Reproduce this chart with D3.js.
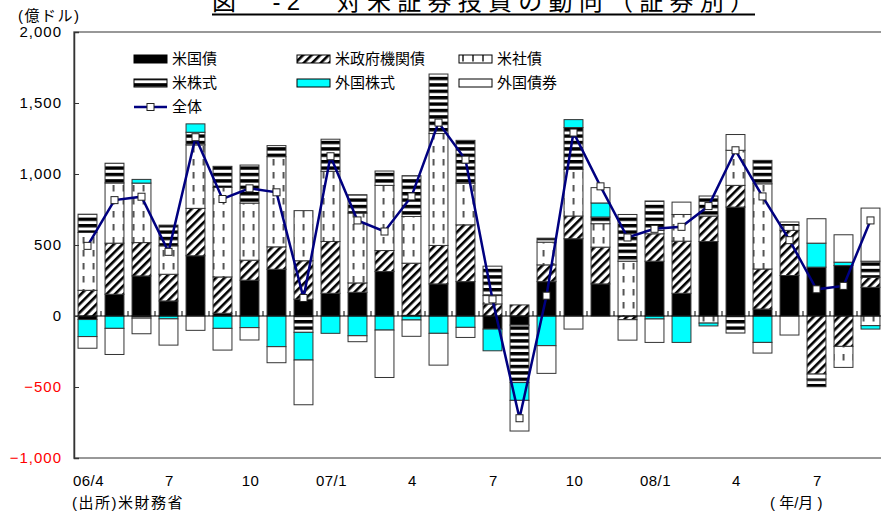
<!DOCTYPE html>
<html><head><meta charset="utf-8">
<script src="https://cdn.jsdelivr.net/npm/d3@7"></script>
<style>
body{margin:0;background:#fff}
svg{display:block}
text{font-family:"Liberation Sans","Noto Sans CJK JP",sans-serif;fill:#000}
</style>
</head><body>
<svg id="c" width="881" height="513"></svg>
<script>
// ---- data (億ドル) ----
const months = ["06/4","06/5","06/6","06/7","06/8","06/9","06/10","06/11","06/12",
  "07/1","07/2","07/3","07/4","07/5","07/6","07/7","07/8","07/9","07/10","07/11","07/12",
  "08/1","08/2","08/3","08/4","08/5","08/6","08/7","08/8","08/9"];
const tickLabels = ["06/4","7","10","07/1","4","7","10","08/1","4","7"];
const tickMonths = ["06/4","06/7","06/10","07/1","07/4","07/7","07/10","08/1","08/4","08/7"];
const seriesNames = ["米国債","米政府機関債","米社債","米株式","外国株式","外国債券"];
const usTreasury = [-25,153,282,106,424,19,252,329,118,160,167,313,5,226,242,-92,-64,242,544,226,0,386,160,525,767,49,285,344,355,202];
const usAgency   = [181,360,235,188,334,256,141,158,271,365,66,148,367,271,400,85,78,118,160,259,-26,193,367,179,153,282,318,-409,-214,71];
const usCorp     = [407,424,419,200,447,631,402,635,353,494,492,459,329,788,294,59,0,160,329,165,386,24,188,-50,247,600,35,-35,-148,-68];
const usEquity   = [129,139,-15,146,89,148,268,78,-115,226,129,101,287,419,301,207,-405,28,294,47,329,207,0,141,-120,165,24,-54,0,113];
const forEquity  = [-120,-87,26,-20,59,-87,-82,-216,-195,-122,-139,-99,-28,-122,-80,-153,-125,-209,56,99,0,-21,-186,-20,0,-186,0,169,24,-24];
const forBond    = [-82,-184,-110,-185,-101,-153,-87,-113,-315,0,-42,-334,-115,-224,-71,0,-216,-195,-92,108,-144,-165,87,0,111,-75,-134,172,193,374];
const total      = [494,816,840,452,1259,824,899,871,127,1125,673,595,842,1362,1101,117,-720,143,1292,913,553,614,628,774,1167,842,534,188,212,673];
const yTicks = [-1000,-500,0,500,1000,1500,2000];

const seriesArrays = [usTreasury,usAgency,usCorp,usEquity,forEquity,forBond];
const table = months.map((m,i)=>{
  const o={month:m};
  seriesNames.forEach((k,j)=>o[k]=seriesArrays[j][i]);
  o.total = total[i];
  return o;
});

const svg = d3.select("#c");
const X0 = 74, Y0 = 32, Y1 = 458;
const x = d3.scaleBand().domain(months).range([X0, X0 + 27*months.length]).paddingInner(0.3).paddingOuter(0.15);
const y = d3.scaleLinear().domain([-1000,2000]).range([Y1, Y0]);

// ---- patterns ----
const defs = svg.append("defs");
const hatch = defs.append("pattern").attr("id","hatch").attr("patternUnits","userSpaceOnUse")
  .attr("width",6).attr("height",6).attr("patternTransform","rotate(45)");
hatch.append("rect").attr("width",6).attr("height",6).attr("fill","#fff");
hatch.append("rect").attr("width",2.6).attr("height",6).attr("fill","#000");

function dashPattern(id, x0){
  const p = defs.append("pattern").attr("id",id).attr("patternUnits","userSpaceOnUse")
    .attr("x",x0).attr("y",0).attr("width",10).attr("height",13);
  p.append("rect").attr("width",10).attr("height",13).attr("fill","#fff");
  p.append("rect").attr("x",5).attr("y",3).attr("width",2).attr("height",6.5).attr("fill","#555");
}
dashPattern("dash", x(months[0]) - 0.5);

const stripe = defs.append("pattern").attr("id","stripe").attr("patternUnits","userSpaceOnUse")
  .attr("width",10).attr("height",6.4);
stripe.append("rect").attr("width",10).attr("height",6.4).attr("fill","#fff");
stripe.append("rect").attr("y",0).attr("width",10).attr("height",3.4).attr("fill","#000");

const fills = {"米国債":"#000","米政府機関債":"url(#hatch)","米社債":"url(#dash)","米株式":"url(#stripe)","外国株式":"#00FFFF","外国債券":"#fff"};

// ---- frame ----
svg.append("rect").attr("x",X0).attr("y",Y0).attr("width",900).attr("height",Y1-Y0)
  .attr("fill","none").attr("stroke","#777").attr("stroke-width",1.5);

// ---- stacked bars ----
const stack = d3.stack().keys(seriesNames).order(d3.stackOrderNone).offset(d3.stackOffsetDiverging);
const layers = stack(table);
svg.append("g").selectAll("g").data(layers).join("g")
  .attr("fill", d=>fills[d.key])
  .selectAll("rect").data(d=>d.filter(s=>s[1]!==s[0])).join("rect")
  .attr("x", d=>x(d.data.month))
  .attr("width", x.bandwidth())
  .attr("y", d=>y(Math.max(d[0],d[1])))
  .attr("height", d=>Math.abs(y(d[0])-y(d[1])))
  .attr("stroke","#333").attr("stroke-width",1);

// ---- zero line & ticks ----
svg.append("line").attr("x1",X0).attr("x2",881).attr("y1",y(0)).attr("y2",y(0))
  .attr("stroke","#000").attr("stroke-width",1);
const step = x.step();
svg.append("g").selectAll("line").data(months.slice(1)).join("line")
  .attr("x1", d=>x(d) - (step - x.bandwidth())/2).attr("x2", d=>x(d) - (step - x.bandwidth())/2)
  .attr("y1", y(0)).attr("y2", y(0)-5).attr("stroke","#000").attr("stroke-width",1);

// ---- y axis ----
const yAxis = svg.append("g").attr("transform",`translate(${X0},0)`)
  .call(d3.axisLeft(y).tickValues(yTicks).tickSize(-5).tickPadding(12).tickFormat(d3.format(",")));
yAxis.select(".domain").attr("stroke","#333").attr("stroke-width",1.5);
yAxis.selectAll(".tick line").attr("stroke","#333");
yAxis.selectAll(".tick text").attr("font-size",15).attr("letter-spacing",1)
  .attr("font-family","Liberation Sans, sans-serif")
  .style("fill", d=> d<0 ? "#FF0000" : "#000");

// ---- x labels ----
svg.append("g").selectAll("text").data(tickMonths).join("text")
  .attr("x", d=>x(d)+x.bandwidth()/2+1).attr("y", 486)
  .attr("text-anchor","middle").attr("font-size",15).attr("letter-spacing",0.5)
  .text((d,i)=>tickLabels[i]);

// ---- total line ----
const cx = d=>x(d.month)+x.bandwidth()/2;
svg.append("path").datum(table)
  .attr("d", d3.line().x(cx).y(d=>y(d.total)))
  .attr("fill","none").attr("stroke","#000080").attr("stroke-width",2.5);
svg.append("g").selectAll("rect").data(table).join("rect")
  .attr("x", d=>cx(d)-3.5).attr("y", d=>y(d.total)-3.5).attr("width",7).attr("height",7)
  .attr("fill","#fff").attr("stroke","#222").attr("stroke-width",1);

// ---- legend ----
const legendItems = [
  {name:"米国債", col:0,row:0},{name:"米政府機関債",col:1,row:0},{name:"米社債",col:2,row:0},
  {name:"米株式", col:0,row:1},{name:"外国株式",col:1,row:1},{name:"外国債券",col:2,row:1}];
const colX = [134,297,459], rowY = [59,83,107];
dashPattern("dashL", 459 - 2);
const lg = svg.append("g");
legendItems.forEach(it=>{
  const lx = colX[it.col], ly = rowY[it.row];
  lg.append("rect").attr("x",lx).attr("y",ly-4).attr("width",33).attr("height",8)
    .attr("fill", it.name==="米社債" ? "url(#dashL)" : fills[it.name])
    .attr("stroke","#000").attr("stroke-width",1);
  lg.append("text").attr("x",lx+38).attr("y",ly).attr("dy","0.36em")
    .attr("font-size",15).text(it.name);
});
lg.append("line").attr("x1",134).attr("x2",167).attr("y1",rowY[2]).attr("y2",rowY[2])
  .attr("stroke","#000080").attr("stroke-width",2.5);
lg.append("rect").attr("x",147).attr("y",rowY[2]-3.5).attr("width",7).attr("height",7)
  .attr("fill","#fff").attr("stroke","#222");
lg.append("text").attr("x",172).attr("y",rowY[2]).attr("dy","0.36em").attr("font-size",15).text("全体");

// ---- titles & notes ----
svg.append("text").attr("x",212).attr("y",10).attr("font-size",24)
  .attr("textLength",542).attr("lengthAdjust","spacing")
  .text("図　-2　対米証券投資の動向（証券別）");
svg.append("line").attr("x1",212).attr("x2",755).attr("y1",14.5).attr("y2",14.5)
  .attr("stroke","#000").attr("stroke-width",2);
svg.append("text").attr("x",18).attr("y",16).attr("dy","0.36em").attr("font-size",15)
  .attr("letter-spacing",1.5).text("(億ドル)");
svg.append("text").attr("x",72).attr("y",503).attr("dy","0.36em").attr("font-size",15)
  .attr("letter-spacing",1.5).text("(出所)米財務省");
svg.append("text").attr("x",770).attr("y",503).attr("dy","0.36em").attr("font-size",15)
  .text("( 年/月 )");
</script>
</body></html>
